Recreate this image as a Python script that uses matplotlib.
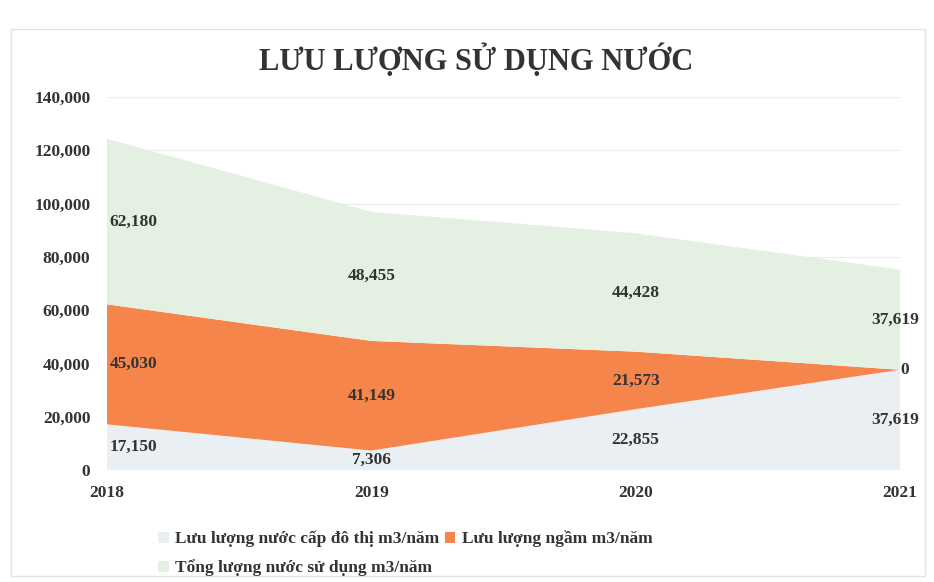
"""Stacked area chart of water usage (Lưu lượng sử dụng nước)."""

import matplotlib

matplotlib.use("Agg")
from matplotlib import pyplot as plt
from matplotlib.patches import Rectangle

years = ["2018", "2019", "2020", "2021"]
cap_do_thi = [17150, 7306, 22855, 37619]
ngam = [45030, 41149, 21573, 0]
tong = [62180, 48455, 44428, 37619]

labels = [
	"Lưu lượng nước cấp đô thị m3/năm",
	"Lưu lượng ngầm m3/năm",
	"Tổng lượng nước sử dụng m3/năm",
]
colors = ["#eaeff4", "#f5854a", "#e3f0e2"]

plt.rcParams["font.family"] = ["Liberation Serif", "DejaVu Serif"]
plt.rcParams["font.weight"] = "bold"

fig = plt.figure(figsize=(9.34, 5.82), dpi=100)
ax = fig.add_axes([0.1146, 0.1924, 0.849, 0.6409])

x = list(range(len(years)))
polys = ax.stackplot(x, cap_do_thi, ngam, tong, colors=colors, zorder=2)

ax.set_xlim(0, 3)
ax.set_ylim(0, 140000)
ax.set_yticks(range(0, 140001, 20000))
ax.set_yticklabels([f"{v:,}" for v in range(0, 140001, 20000)], fontsize=12.5, color="#333333")
ax.set_xticks(x)
ax.set_xticklabels(years, fontsize=12.5, color="#333333")
ax.tick_params(axis="y", length=0, pad=12)
ax.tick_params(axis="x", length=0, pad=11)
for s in ax.spines.values():
	s.set_visible(False)
ax.grid(axis="y", color="#ececec", linewidth=0.8, zorder=0)
ax.set_axisbelow(True)

# data labels in the middle of each band
for i in x:
	bottom = 0
	for series in (cap_do_thi, ngam, tong):
		v = series[i]
		mid = bottom + v / 2
		bottom += v
		if i == 0:
			ha, dx = "left", 0.01
		elif i == 3:
			ha, dx = "left", -0.11
		else:
			ha, dx = "center", 0
		txt = f"{v:,}"
		if i == 3 and v == 0:
			dx = 0.0
			txt = "0"
		ax.text(i + dx, mid, txt, ha=ha, va="center", fontsize=12.5,
			color="#333333", clip_on=False, zorder=5)

fig.text(0.51, 0.897, "LƯU LƯỢNG SỬ DỤNG NƯỚC", ha="center", va="center",
	fontsize=22, color="#333333")

handles = [polys[0], polys[2], polys[1]]
order_labels = [labels[0], labels[2], labels[1]]
fig.legend(handles, order_labels, ncol=2, loc="upper left",
	bbox_to_anchor=(0.16, 0.103), frameon=False, fontsize=12.5,
	handlelength=0.6, handleheight=0.6, handletextpad=0.4,
	columnspacing=0.3, labelspacing=0.7, borderpad=0,
	labelcolor="#333333")

fig.patches.append(Rectangle((0.012, 0.01), 0.978, 0.94, transform=fig.transFigure,
	fill=False, edgecolor="#e4e4e4", linewidth=1))

fig.savefig("out.png", dpi=100)
